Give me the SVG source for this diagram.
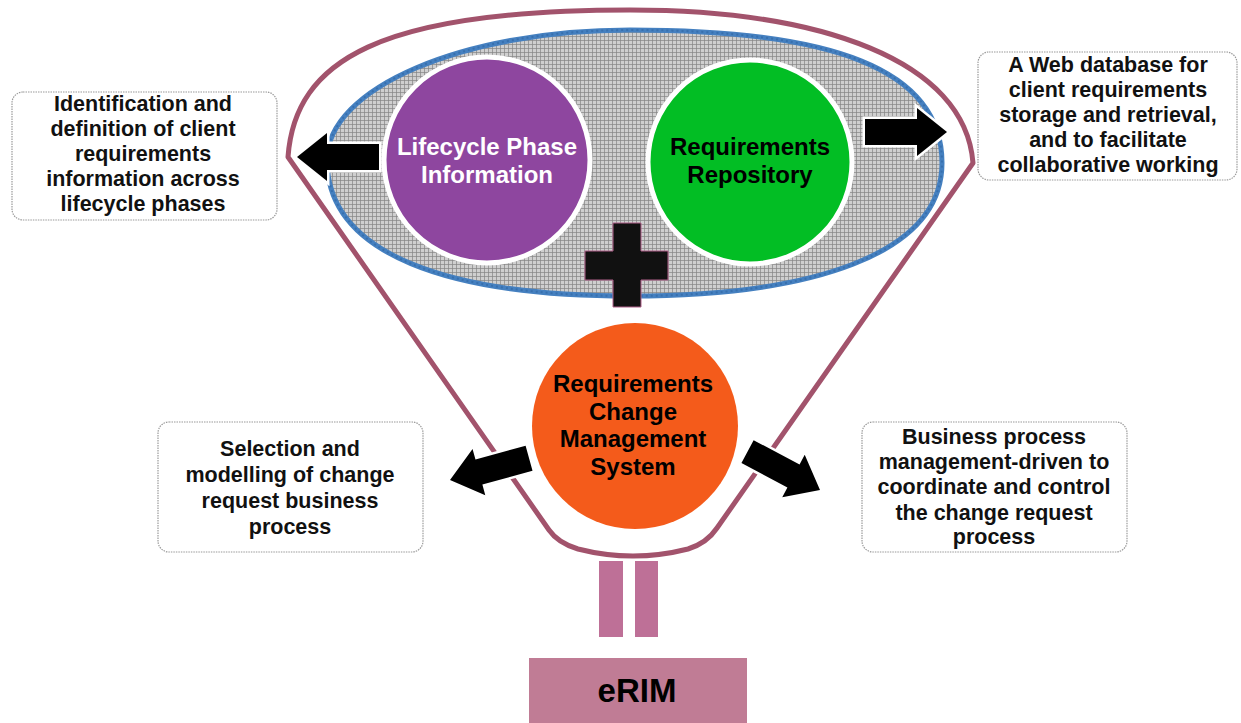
<svg xmlns="http://www.w3.org/2000/svg" width="1241" height="723" viewBox="0 0 1241 723">
  <style>
    text { font-family: "Liberation Sans", Arial, sans-serif; font-weight: bold; text-anchor: middle; }
    .note { fill: #ffffff; stroke: #9a9a9a; stroke-width: 1.2; stroke-dasharray: 1.5 1; }
    .note-text { font-size: 21.5px; fill: #111111; }
    .circle-text { font-size: 24px; }
    .arrow { fill: #000000; stroke: #ffffff; stroke-width: 5; stroke-linejoin: miter; paint-order: stroke; }
    .funnel { fill: none; stroke: #A2536C; stroke-width: 5; stroke-linejoin: round; }
    .bar { fill: #BE7097; }
  </style>
  <defs>
    <pattern id="grid" width="4" height="4" patternUnits="userSpaceOnUse">
      <rect width="4" height="4" fill="#cfcfcf"/>
      <path d="M0,0.5 H4 M0.5,0 V4" stroke="#858585" stroke-width="1" stroke-opacity="0.7"/>
    </pattern>
    <path id="block-arrow" d="M0,0 L-30,-24 L-30,-13 L-82,-13 L-82,13 L-30,13 L-30,24 Z"/>
  </defs>

  <rect width="1241" height="723" fill="#ffffff"/>

  <!-- funnel outline -->
  <g id="funnel">
    <path class="funnel" d="M288,157 C295,60 380,10 630,10 C820,10 965,60 973,163 L717,528 Q707,543 688,549 Q633,563 578,549 Q558,543 549,530 Z"/>
  </g>

  <!-- shared platform ellipse -->
  <g id="platform">
    <path d="M327,160 C327,88 463,30 630,30 C830,30 942,68 942,163 C942,255 810,296 630,296 C450,296 327,255 327,160 Z" fill="url(#grid)" stroke="#4580C0" stroke-width="5"/>
    <path d="M327,160 C327,88 463,30 630,30 C830,30 942,68 942,163 C942,255 810,296 630,296 C450,296 327,255 327,160 Z" fill="none" stroke="#2E64A0" stroke-width="2" stroke-dasharray="2 3" stroke-opacity="0.6"/>
  </g>

  <g id="lifecycle-phase-information">
    <circle cx="487" cy="160" r="103" fill="#8E469F" stroke="#ffffff" stroke-width="5"/>
    <text class="circle-text" x="487" y="155" fill="#ffffff">Lifecycle Phase</text>
    <text class="circle-text" x="487" y="183" fill="#ffffff">Information</text>
  </g>

  <g id="requirements-repository">
    <circle cx="750" cy="162" r="102" fill="#02BE24" stroke="#ffffff" stroke-width="5"/>
    <text class="circle-text" x="750" y="155" fill="#000000">Requirements</text>
    <text class="circle-text" x="750" y="183" fill="#000000">Repository</text>
  </g>

  <g id="plus">
    <path d="M613,223 H641 V251 H668 V280 H641 V307 H613 V280 H585 V251 H613 Z" fill="#111111" stroke="#B0608A" stroke-width="1"/>
  </g>

  <g id="requirements-change-management-system">
    <circle cx="635" cy="426" r="103" fill="#F45B1B"/>
    <text class="circle-text" x="633" y="392" fill="#000000">Requirements</text>
    <text class="circle-text" x="633" y="420" fill="#000000">Change</text>
    <text class="circle-text" x="633" y="447" fill="#000000">Management</text>
    <text class="circle-text" x="633" y="475" fill="#000000">System</text>
  </g>

  <!-- block arrows pointing out to the notes -->
  <g id="connectors">
    <use href="#block-arrow" class="arrow" transform="translate(297,157) rotate(180)"/>
    <use href="#block-arrow" class="arrow" transform="translate(947,132)"/>
    <use href="#block-arrow" class="arrow" transform="translate(450,480) rotate(164.6)"/>
    <use href="#block-arrow" class="arrow" transform="translate(820,490) rotate(27.9)"/>
  </g>

  <g id="note-identification">
    <rect class="note" x="12" y="92" width="265" height="128" rx="11"/>
    <text class="note-text" x="143" y="111">Identification and</text>
    <text class="note-text" x="143" y="136">definition of client</text>
    <text class="note-text" x="143" y="161">requirements</text>
    <text class="note-text" x="143" y="186">information across</text>
    <text class="note-text" x="143" y="211">lifecycle phases</text>
  </g>

  <g id="note-web-database">
    <rect class="note" x="978" y="52" width="259" height="128" rx="11"/>
    <text class="note-text" x="1108" y="72">A Web database for</text>
    <text class="note-text" x="1108" y="97">client requirements</text>
    <text class="note-text" x="1108" y="122">storage and retrieval,</text>
    <text class="note-text" x="1108" y="147">and to facilitate</text>
    <text class="note-text" x="1108" y="172">collaborative working</text>
  </g>

  <g id="note-selection">
    <rect class="note" x="158" y="422" width="265" height="130" rx="11"/>
    <text class="note-text" x="290" y="456">Selection and</text>
    <text class="note-text" x="290" y="482">modelling of change</text>
    <text class="note-text" x="290" y="508">request business</text>
    <text class="note-text" x="290" y="534">process</text>
  </g>

  <g id="note-bpm">
    <rect class="note" x="862" y="422" width="265" height="130" rx="11"/>
    <text class="note-text" x="994" y="444">Business process</text>
    <text class="note-text" x="994" y="469">management-driven to</text>
    <text class="note-text" x="994" y="494">coordinate and control</text>
    <text class="note-text" x="994" y="520">the change request</text>
    <text class="note-text" x="994" y="544">process</text>
  </g>

  <g id="equals-bars">
    <rect class="bar" x="599" y="561" width="24" height="76"/>
    <rect class="bar" x="635" y="561" width="23" height="76"/>
  </g>

  <g id="erim">
    <rect x="529" y="658" width="218" height="66" fill="#C07C95"/>
    <text x="637" y="702" font-size="33px" fill="#000000">eRIM</text>
  </g>
</svg>
